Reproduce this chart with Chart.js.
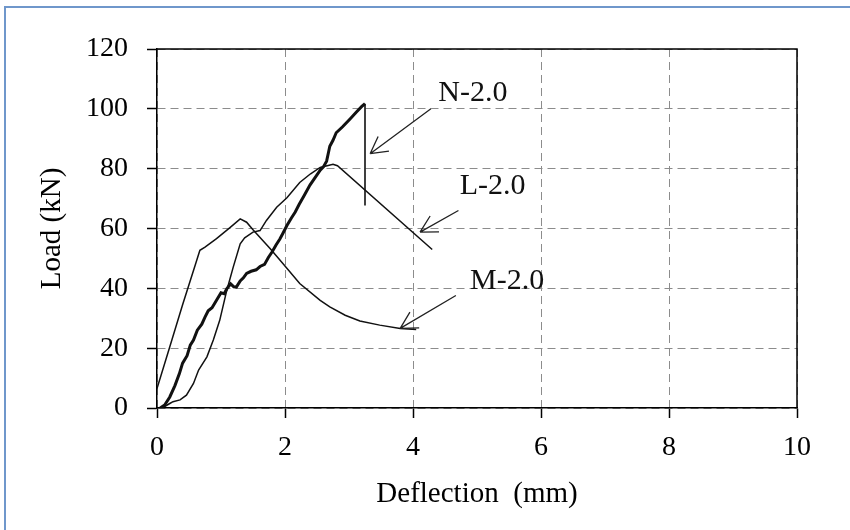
<!DOCTYPE html>
<html>
<head>
<meta charset="utf-8">
<script src="https://cdn.jsdelivr.net/npm/chart.js@4.4.0/dist/chart.umd.min.js"></script>
<style>
  html, body { margin: 0; padding: 0; background: #fff; }
</style>
</head>
<body>
<canvas id="loadChart" width="850" height="530"></canvas>
<script>
// load - deflection curves
var nDefl = [0.05, 0.12, 0.2, 0.28, 0.35, 0.4, 0.47, 0.52, 0.57, 0.63, 0.7, 0.75, 0.8, 0.86, 0.93, 1.0, 1.05, 1.09, 1.15, 1.2, 1.24, 1.3, 1.35, 1.4, 1.47, 1.55, 1.61, 1.68, 1.74, 1.8, 1.86, 1.92, 1.97, 2.03, 2.1, 2.16, 2.22, 2.3, 2.39, 2.47, 2.55, 2.6, 2.65, 2.68, 2.7, 2.75, 2.8, 2.9, 3.02, 3.12, 3.2, 3.25, 3.25];
var nLoad = [0, 1, 3.7, 7.5, 11.5, 15, 17.5, 21, 22.7, 26, 28, 30.4, 32.5, 33.5, 36, 38.5, 38.2, 39.8, 41.5, 40.5, 40.4, 42.5, 43.5, 45, 45.7, 46.2, 47.3, 48, 50.3, 52.2, 54.5, 56.5, 58.5, 61, 63.5, 65.5, 68, 71, 74.5, 77, 79.5, 80.6, 82.5, 85.5, 87.5, 89.5, 92, 94, 96.7, 99, 100.8, 101.7, 67.7];

var lDefl = [0.05, 0.12, 0.2, 0.25, 0.36, 0.46, 0.57, 0.65, 0.78, 0.88, 0.98, 1.09, 1.19, 1.3, 1.37, 1.5, 1.61, 1.71, 1.87, 2.03, 2.23, 2.4, 2.55, 2.75, 2.82, 4.3];
var lLoad = [0, 0.5, 1.5, 2.1, 2.7, 4.3, 8.2, 12.7, 17.1, 22.7, 29.3, 39.3, 47, 54.9, 56.9, 58.8, 59.3, 62.7, 67.1, 70.3, 75.4, 78.3, 80.4, 81.5, 81, 53];

var mDefl = [0, 0.2, 0.4, 0.6, 0.67, 0.75, 0.93, 1.14, 1.3, 1.4, 1.5, 1.77, 1.97, 2.23, 2.55, 2.7, 2.94, 3.17, 3.48, 3.8, 4.05];
var mLoad = [6.5, 20.5, 34.5, 48, 52.7, 53.8, 56.6, 60.3, 63.2, 62.1, 59.6, 53.2, 48.2, 41.6, 36, 33.8, 31, 29.1, 27.7, 26.6, 26.2];

var xTicks = [0, 2, 4, 6, 8, 10];
var yTicks = [0, 20, 40, 60, 80, 100, 120];

function pairs(xs, ys) {
    return xs.map(function (x, i) { return { x: x, y: ys[i] }; });
}

var serif = 'Liberation Serif, Times New Roman, serif';

// blue frame, plot box, callout arrows and curve names
var calloutPlugin = {
    id: 'callouts',
    beforeDraw: function (chart) {
        var ctx = chart.ctx;
        ctx.save();
        ctx.fillStyle = '#fff';
        ctx.fillRect(0, 0, chart.width, chart.height);
        ctx.strokeStyle = '#6f97cb';
        ctx.lineWidth = 2;
        ctx.beginPath();
        ctx.moveTo(5, chart.height);
        ctx.lineTo(5, 7);
        ctx.lineTo(chart.width, 7);
        ctx.stroke();
        ctx.restore();
    },
    afterDraw: function (chart, args, opts) {
        var ctx = chart.ctx;
        var xs = chart.scales.x, ys = chart.scales.y;
        var a = chart.chartArea;
        ctx.save();
        ctx.strokeStyle = '#000';
        ctx.lineWidth = 1.5;
        ctx.beginPath();
        ctx.moveTo(a.left, a.top);
        ctx.lineTo(a.right, a.top);
        ctx.lineTo(a.right, a.bottom);
        ctx.stroke();

        ctx.strokeStyle = '#222';
        ctx.lineWidth = 1.3;
        opts.arrows.forEach(function (ar) {
            var x1 = xs.getPixelForValue(ar.from[0]), y1 = ys.getPixelForValue(ar.from[1]);
            var x2 = xs.getPixelForValue(ar.to[0]), y2 = ys.getPixelForValue(ar.to[1]);
            var ang = Math.atan2(y1 - y2, x1 - x2);
            ctx.beginPath();
            ctx.moveTo(x1, y1);
            ctx.lineTo(x2, y2);
            [-0.5, 0.5].forEach(function (d) {
                ctx.moveTo(x2, y2);
                ctx.lineTo(x2 + 19 * Math.cos(ang + d), y2 + 19 * Math.sin(ang + d));
            });
            ctx.stroke();
        });

        ctx.fillStyle = '#111';
        ctx.font = '30px ' + serif;
        ctx.textAlign = 'left';
        ctx.textBaseline = 'alphabetic';
        opts.labels.forEach(function (lb) {
            ctx.fillText(lb.text, xs.getPixelForValue(lb.at[0]), ys.getPixelForValue(lb.at[1]));
        });
        ctx.restore();
    }
};

var lineStyle = function (w) {
    return { borderColor: '#111', borderWidth: w, pointRadius: 0, fill: false, tension: 0, showLine: true };
};

var nSet = Object.assign({ label: 'N-2.0', data: pairs(nDefl, nLoad) }, lineStyle(3));
// the sudden drop after failure is drawn thin
nSet.segment = {
    borderWidth: function (c) { return c.p1DataIndex === nDefl.length - 1 ? 1.6 : undefined; }
};

new Chart(document.getElementById('loadChart'), {
    type: 'scatter',
    data: {
        datasets: [
            nSet,
            Object.assign({ label: 'L-2.0', data: pairs(lDefl, lLoad) }, lineStyle(1.5)),
            Object.assign({ label: 'M-2.0', data: pairs(mDefl, mLoad) }, lineStyle(1.5))
        ]
    },
    options: {
        responsive: false,
        animation: false,
        layout: { padding: { top: 49, right: 53, left: 0, bottom: 0 } },
        plugins: {
            legend: { display: false },
            tooltip: { enabled: false },
            callouts: {
                arrows: [
                    { from: [4.28, 100], to: [3.33, 85] },
                    { from: [4.71, 66], to: [4.11, 58.8] },
                    { from: [4.67, 37.6], to: [3.8, 26.6] }
                ],
                labels: [
                    { text: 'N-2.0', at: [4.395, 102.7] },
                    { text: 'L-2.0', at: [4.73, 71.6] },
                    { text: 'M-2.0', at: [4.89, 39.9] }
                ]
            }
        },
        scales: {
            x: {
                type: 'linear',
                min: xTicks[0],
                max: xTicks[xTicks.length - 1],
                afterBuildTicks: function (s) { s.ticks = xTicks.map(function (v) { return { value: v }; }); },
                afterFit: function (s) { s.height = 122; },
                ticks: { color: '#000', padding: 13, font: { family: serif, size: 28 } },
                grid: { color: '#8c8c8c', lineWidth: 1, tickLength: 10, tickColor: '#000', tickWidth: 1.5 },
                border: { color: '#000', width: 1.5, dash: [8, 5] },
                title: {
                    display: true,
                    text: 'Deflection  (mm)',
                    color: '#000',
                    font: { family: serif, size: 29 },
                    padding: { top: 0, bottom: 18 }
                }
            },
            y: {
                type: 'linear',
                min: yTicks[0],
                max: yTicks[yTicks.length - 1],
                afterBuildTicks: function (s) { s.ticks = yTicks.map(function (v) { return { value: v }; }); },
                afterFit: function (s) { s.width = 157; },
                ticks: { color: '#000', padding: 19, font: { family: serif, size: 28 } },
                grid: { color: '#8c8c8c', lineWidth: 1, tickLength: 10, tickColor: '#000', tickWidth: 1.5 },
                border: { color: '#000', width: 1.5, dash: [8, 5] },
                title: {
                    display: true,
                    text: 'Load (kN)',
                    color: '#000',
                    font: { family: serif, size: 29 },
                    padding: { top: 35, bottom: 0 }
                }
            }
        }
    },
    plugins: [calloutPlugin]
});
</script>
</body>
</html>
